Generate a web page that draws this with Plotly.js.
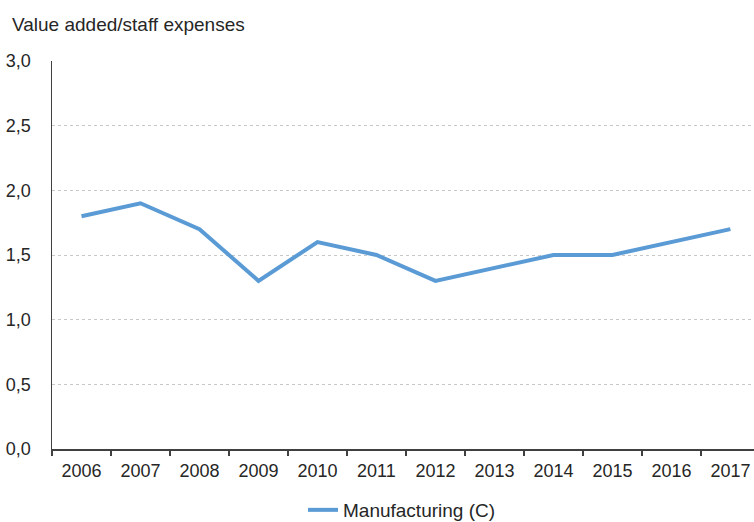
<!DOCTYPE html>
<html>
<head>
<meta charset="utf-8">
<script src="https://cdn.plot.ly/plotly-3.0.1.min.js"></script>
<style>html,body{margin:0;padding:0;background:#fff;}#chart{width:754px;height:522px;}</style>
</head>
<body>
<div id="chart"></div>
<script>
const years = ["2006","2007","2008","2009","2010","2011","2012","2013","2014","2015","2016","2017"];
const manufacturing = [1.8, 1.9, 1.7, 1.3, 1.6, 1.5, 1.3, 1.4, 1.5, 1.5, 1.6, 1.7];
const seriesName = "Manufacturing (C)";
const yTickVals = [0, 0.5, 1.0, 1.5, 2.0, 2.5, 3.0];
const yTickText = ["0,0","0,5","1,0","1,5","2,0","2,5","3,0"];

const trace = {
  x: years, y: manufacturing, type: 'scatter', mode: 'lines', name: seriesName,
  line: {color: '#5b9bd5', width: 4}
};
const layout = {
  width: 754, height: 522,
  margin: {l: 52, r: 0, t: 61, b: 73},
  paper_bgcolor: '#fff', plot_bgcolor: '#fff',
  font: {family: 'Liberation Sans, Arial, sans-serif', size: 18, color: '#262626'},
  showlegend: true,
  title: {text: 'Value added/staff expenses', x: 12/754, xanchor: 'left', xref: 'container', y: 1 - 24/522, yanchor: 'middle', yref: 'container', font: {size: 19, color: '#262626'}},
  xaxis: {
    type: 'category', range: [-0.5, 11.4], showgrid: false,
    showline: true, linecolor: '#404040', linewidth: 1.5,
    ticks: 'outside', tickson: 'boundaries', ticklen: 5, tickcolor: '#404040', tickwidth: 1.5,
    ticklabelstandoff: 5, tickfont: {size: 18}, fixedrange: true
  },
  yaxis: {
    range: [0, 3.0], tickvals: yTickVals, ticktext: yTickText,
    showgrid: true, gridcolor: '#c8c8c8', griddash: 'dot', gridwidth: 1,
    showline: true, linecolor: '#404040', linewidth: 1.5,
    ticks: '', ticklabelstandoff: 16, zeroline: false, tickfont: {size: 18}
  },
  legend: {
    orientation: 'h', xref: 'container', yref: 'container',
    x: 303/754, xanchor: 'left', y: 1 - 491/522, yanchor: 'top',
    font: {size: 19}
  }
};
Plotly.newPlot('chart', [trace], layout, {displayModeBar: false, staticPlot: true});
</script>
</body>
</html>
